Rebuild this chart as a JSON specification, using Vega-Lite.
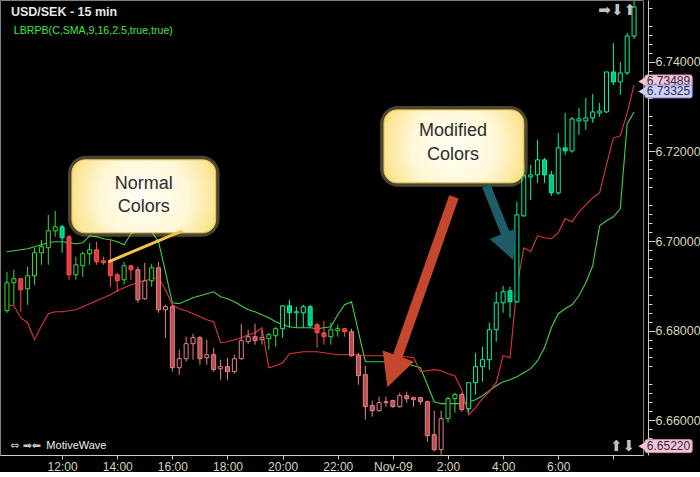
{
"$schema":"https://vega.github.io/schema/vega-lite/v6.json",
"width":643,"height":455,
"padding":{"left":0,"top":0,"right":0,"bottom":0},
"autosize":{"type":"pad"},
"background":"#000000",
"config":{"view":{"stroke":"#808080","strokeWidth":1},"font":"Liberation Sans"},
"resolve":{"axis":{"y":"independent"}},
"datasets":{"c":[
{"t":"2010-11-08T10:00","o":6.68442,"h":6.69313,"l":6.68398,"c":6.69067,"s":"un","u":6.69759,"d":6.68576},
{"t":"2010-11-08T10:15","o":6.69067,"h":6.69358,"l":6.68576,"c":6.69157,"s":"un","u":6.69782,"d":6.68554},
{"t":"2010-11-08T10:30","o":6.69157,"h":6.69179,"l":6.68420,"c":6.68911,"s":"dn","u":6.69804,"d":6.68286},
{"t":"2010-11-08T10:45","o":6.68934,"h":6.69425,"l":6.68576,"c":6.69224,"s":"un","u":6.69826,"d":6.68175},
{"t":"2010-11-08T11:00","o":6.69224,"h":6.69849,"l":6.69023,"c":6.69737,"s":"un","u":6.69871,"d":6.67795},
{"t":"2010-11-08T11:15","o":6.69737,"h":6.70027,"l":6.69469,"c":6.69871,"s":"un","u":6.69916,"d":6.68108},
{"t":"2010-11-08T11:30","o":6.69849,"h":6.70585,"l":6.69469,"c":6.70228,"s":"un","u":6.69960,"d":6.68376},
{"t":"2010-11-08T11:45","o":6.70228,"h":6.70674,"l":6.70094,"c":6.70317,"s":"un","u":6.69983,"d":6.68420},
{"t":"2010-11-08T12:00","o":6.70317,"h":6.70362,"l":6.69737,"c":6.70072,"s":"dh","u":6.69983,"d":6.68420},
{"t":"2010-11-08T12:15","o":6.70094,"h":6.70139,"l":6.69134,"c":6.69246,"s":"dn","u":6.69960,"d":6.68442},
{"t":"2010-11-08T12:30","o":6.69246,"h":6.69648,"l":6.69134,"c":6.69469,"s":"un","u":6.69938,"d":6.68465},
{"t":"2010-11-08T12:45","o":6.69447,"h":6.69759,"l":6.69201,"c":6.69715,"s":"un","u":6.69960,"d":6.68532},
{"t":"2010-11-08T13:00","o":6.69715,"h":6.69960,"l":6.69469,"c":6.69804,"s":"un","u":6.70116,"d":6.68599},
{"t":"2010-11-08T13:15","o":6.69804,"h":6.69983,"l":6.69469,"c":6.69536,"s":"dn","u":6.70094,"d":6.68666},
{"t":"2010-11-08T13:30","o":6.69558,"h":6.69648,"l":6.69469,"c":6.69514,"s":"dn","u":6.70050,"d":6.68733},
{"t":"2010-11-08T13:45","o":6.69536,"h":6.70027,"l":6.68978,"c":6.69224,"s":"dn","u":6.70027,"d":6.68800},
{"t":"2010-11-08T14:00","o":6.69246,"h":6.69291,"l":6.68867,"c":6.69112,"s":"dn","u":6.69983,"d":6.68889},
{"t":"2010-11-08T14:15","o":6.69134,"h":6.69536,"l":6.69023,"c":6.69447,"s":"un","u":6.69916,"d":6.68956},
{"t":"2010-11-08T14:30","o":6.69447,"h":6.69469,"l":6.69134,"c":6.69358,"s":"dn","u":6.70161,"d":6.69023},
{"t":"2010-11-08T14:45","o":6.69358,"h":6.69425,"l":6.68621,"c":6.68688,"s":"dl","u":6.70228,"d":6.69067},
{"t":"2010-11-08T15:00","o":6.68710,"h":6.69514,"l":6.68688,"c":6.69112,"s":"ul","u":6.70250,"d":6.69112},
{"t":"2010-11-08T15:15","o":6.69112,"h":6.69492,"l":6.68978,"c":6.69402,"s":"un","u":6.70206,"d":6.69157},
{"t":"2010-11-08T15:30","o":6.69402,"h":6.69536,"l":6.68398,"c":6.68465,"s":"dl","u":6.69983,"d":6.69179},
{"t":"2010-11-08T15:45","o":6.68465,"h":6.68576,"l":6.67840,"c":6.68532,"s":"ul","u":6.69313,"d":6.68911},
{"t":"2010-11-08T16:00","o":6.68532,"h":6.68576,"l":6.67081,"c":6.67170,"s":"dl","u":6.68621,"d":6.68576},
{"t":"2010-11-08T16:15","o":6.67170,"h":6.67572,"l":6.67014,"c":6.67371,"s":"ul","u":6.68599,"d":6.68487},
{"t":"2010-11-08T16:30","o":6.67371,"h":6.67862,"l":6.67304,"c":6.67706,"s":"ul","u":6.68666,"d":6.68442},
{"t":"2010-11-08T16:45","o":6.67706,"h":6.67929,"l":6.67349,"c":6.67840,"s":"ul","u":6.68733,"d":6.68376},
{"t":"2010-11-08T17:00","o":6.67840,"h":6.67884,"l":6.67237,"c":6.67371,"s":"dl","u":6.68777,"d":6.68309},
{"t":"2010-11-08T17:15","o":6.67393,"h":6.67795,"l":6.67237,"c":6.67460,"s":"ul","u":6.68822,"d":6.68242},
{"t":"2010-11-08T17:30","o":6.67460,"h":6.67617,"l":6.67081,"c":6.67126,"s":"dl","u":6.68867,"d":6.68197},
{"t":"2010-11-08T17:45","o":6.67148,"h":6.67349,"l":6.66902,"c":6.67193,"s":"ul","u":6.68755,"d":6.67728},
{"t":"2010-11-08T18:00","o":6.67193,"h":6.67393,"l":6.66902,"c":6.67081,"s":"dl","u":6.68710,"d":6.67751},
{"t":"2010-11-08T18:15","o":6.67081,"h":6.67460,"l":6.67036,"c":6.67371,"s":"ul","u":6.68643,"d":6.67795},
{"t":"2010-11-08T18:30","o":6.67371,"h":6.68152,"l":6.67349,"c":6.67773,"s":"ul","u":6.68554,"d":6.67840},
{"t":"2010-11-08T18:45","o":6.67751,"h":6.68018,"l":6.67706,"c":6.67862,"s":"ul","u":6.68465,"d":6.67907},
{"t":"2010-11-08T19:00","o":6.67862,"h":6.68152,"l":6.67684,"c":6.67773,"s":"dl","u":6.68420,"d":6.67951},
{"t":"2010-11-08T19:15","o":6.67795,"h":6.68018,"l":6.67684,"c":6.67840,"s":"ul","u":6.68353,"d":6.68063},
{"t":"2010-11-08T19:30","o":6.67818,"h":6.67951,"l":6.67572,"c":6.67907,"s":"un","u":6.68286,"d":6.67170},
{"t":"2010-11-08T19:45","o":6.67884,"h":6.68085,"l":6.67639,"c":6.68041,"s":"un","u":6.68197,"d":6.67215},
{"t":"2010-11-08T20:00","o":6.68041,"h":6.68554,"l":6.67840,"c":6.68554,"s":"uh","u":6.68130,"d":6.67282},
{"t":"2010-11-08T20:15","o":6.68554,"h":6.68688,"l":6.68063,"c":6.68398,"s":"dh","u":6.68085,"d":6.67483},
{"t":"2010-11-08T20:30","o":6.68398,"h":6.68532,"l":6.68063,"c":6.68420,"s":"uh","u":6.68063,"d":6.67505},
{"t":"2010-11-08T20:45","o":6.68398,"h":6.68576,"l":6.68063,"c":6.68532,"s":"uh","u":6.68063,"d":6.67527},
{"t":"2010-11-08T21:00","o":6.68532,"h":6.68576,"l":6.68063,"c":6.68108,"s":"dh","u":6.68063,"d":6.67527},
{"t":"2010-11-08T21:15","o":6.68130,"h":6.68175,"l":6.67617,"c":6.67951,"s":"dn","u":6.68041,"d":6.67527},
{"t":"2010-11-08T21:30","o":6.67951,"h":6.68219,"l":6.67684,"c":6.67862,"s":"dn","u":6.68063,"d":6.67505},
{"t":"2010-11-08T21:45","o":6.67862,"h":6.68175,"l":6.67684,"c":6.68018,"s":"un","u":6.68085,"d":6.67483},
{"t":"2010-11-08T22:00","o":6.67996,"h":6.68130,"l":6.67862,"c":6.68041,"s":"un","u":6.68353,"d":6.67460},
{"t":"2010-11-08T22:15","o":6.68041,"h":6.68063,"l":6.67862,"c":6.67974,"s":"dn","u":6.68576,"d":6.67460},
{"t":"2010-11-08T22:30","o":6.67974,"h":6.68041,"l":6.67416,"c":6.67438,"s":"dl","u":6.68643,"d":6.67460},
{"t":"2010-11-08T22:45","o":6.67438,"h":6.67505,"l":6.66791,"c":6.66992,"s":"dl","u":6.67974,"d":6.67460},
{"t":"2010-11-08T23:00","o":6.67014,"h":6.67215,"l":6.66010,"c":6.66300,"s":"dl","u":6.67304,"d":6.67438},
{"t":"2010-11-08T23:15","o":6.66322,"h":6.66434,"l":6.66077,"c":6.66210,"s":"dl","u":6.67304,"d":6.67438},
{"t":"2010-11-08T23:30","o":6.66210,"h":6.66523,"l":6.66188,"c":6.66389,"s":"ul","u":6.67304,"d":6.67438},
{"t":"2010-11-08T23:45","o":6.66389,"h":6.66523,"l":6.66300,"c":6.66411,"s":"ul","u":6.67304,"d":6.67438},
{"t":"2010-11-09T00:00","o":6.66434,"h":6.66456,"l":6.66277,"c":6.66300,"s":"dl","u":6.67304,"d":6.67438},
{"t":"2010-11-09T00:15","o":6.66300,"h":6.66612,"l":6.66277,"c":6.66545,"s":"ul","u":6.67282,"d":6.67416},
{"t":"2010-11-09T00:30","o":6.66545,"h":6.66635,"l":6.66389,"c":6.66478,"s":"dl","u":6.67260,"d":6.67416},
{"t":"2010-11-09T00:45","o":6.66501,"h":6.66523,"l":6.66300,"c":6.66456,"s":"dl","u":6.67215,"d":6.67393},
{"t":"2010-11-09T01:00","o":6.66501,"h":6.66523,"l":6.66344,"c":6.66411,"s":"dl","u":6.67170,"d":6.67081},
{"t":"2010-11-09T01:15","o":6.66411,"h":6.66434,"l":6.65519,"c":6.65652,"s":"dl","u":6.66791,"d":6.67103},
{"t":"2010-11-09T01:30","o":6.65675,"h":6.66210,"l":6.65295,"c":6.65340,"s":"dl","u":6.66411,"d":6.67126},
{"t":"2010-11-09T01:45","o":6.65340,"h":6.66210,"l":6.65228,"c":6.66032,"s":"ul","u":6.66367,"d":6.67103},
{"t":"2010-11-09T02:00","o":6.66032,"h":6.66523,"l":6.65943,"c":6.66478,"s":"un","u":6.66367,"d":6.67036},
{"t":"2010-11-09T02:15","o":6.66478,"h":6.66612,"l":6.66166,"c":6.66568,"s":"un","u":6.66367,"d":6.66992},
{"t":"2010-11-09T02:30","o":6.66568,"h":6.66612,"l":6.66188,"c":6.66233,"s":"dl","u":6.66367,"d":6.66679},
{"t":"2010-11-09T02:45","o":6.66255,"h":6.66835,"l":6.66166,"c":6.66835,"s":"uh","u":6.66411,"d":6.66121},
{"t":"2010-11-09T03:00","o":6.66835,"h":6.67505,"l":6.66568,"c":6.67193,"s":"uh","u":6.66456,"d":6.66277},
{"t":"2010-11-09T03:15","o":6.67193,"h":6.67639,"l":6.66858,"c":6.67349,"s":"uh","u":6.66545,"d":6.66478},
{"t":"2010-11-09T03:30","o":6.67349,"h":6.68175,"l":6.67126,"c":6.68018,"s":"uh","u":6.66657,"d":6.66635},
{"t":"2010-11-09T03:45","o":6.68018,"h":6.68867,"l":6.67751,"c":6.68621,"s":"uh","u":6.66768,"d":6.66835},
{"t":"2010-11-09T04:00","o":6.68621,"h":6.69000,"l":6.68398,"c":6.68867,"s":"uh","u":6.66858,"d":6.67438},
{"t":"2010-11-09T04:15","o":6.68889,"h":6.68978,"l":6.68286,"c":6.68643,"s":"dh","u":6.66902,"d":6.67393},
{"t":"2010-11-09T04:30","o":6.68643,"h":6.70875,"l":6.68621,"c":6.70585,"s":"uh","u":6.66969,"d":6.68978},
{"t":"2010-11-09T04:45","o":6.70563,"h":6.71701,"l":6.70541,"c":6.71456,"s":"uh","u":6.67059,"d":6.69849},
{"t":"2010-11-09T05:00","o":6.71433,"h":6.71701,"l":6.70920,"c":6.71478,"s":"uh","u":6.67148,"d":6.69759},
{"t":"2010-11-09T05:15","o":6.71478,"h":6.72259,"l":6.71299,"c":6.71813,"s":"uh","u":6.67326,"d":6.70116},
{"t":"2010-11-09T05:30","o":6.71813,"h":6.71857,"l":6.71299,"c":6.71478,"s":"dh","u":6.67617,"d":6.70072},
{"t":"2010-11-09T05:45","o":6.71478,"h":6.71567,"l":6.71009,"c":6.71076,"s":"dh","u":6.68063,"d":6.70050},
{"t":"2010-11-09T06:00","o":6.71076,"h":6.72415,"l":6.71032,"c":6.72081,"s":"uh","u":6.68376,"d":6.70183},
{"t":"2010-11-09T06:15","o":6.72081,"h":6.72862,"l":6.71924,"c":6.72014,"s":"dh","u":6.68487,"d":6.70496},
{"t":"2010-11-09T06:30","o":6.72014,"h":6.72773,"l":6.71969,"c":6.72728,"s":"uh","u":6.68576,"d":6.70429},
{"t":"2010-11-09T06:45","o":6.72683,"h":6.72973,"l":6.72371,"c":6.72728,"s":"uh","u":6.68777,"d":6.70652},
{"t":"2010-11-09T07:00","o":6.72683,"h":6.73197,"l":6.72482,"c":6.72750,"s":"uh","u":6.69067,"d":6.70808},
{"t":"2010-11-09T07:15","o":6.72750,"h":6.73286,"l":6.72639,"c":6.72884,"s":"uh","u":6.69447,"d":6.70965},
{"t":"2010-11-09T07:30","o":6.72862,"h":6.73085,"l":6.72773,"c":6.72906,"s":"uh","u":6.70340,"d":6.71076},
{"t":"2010-11-09T07:45","o":6.72884,"h":6.73777,"l":6.72862,"c":6.73777,"s":"uh","u":6.70451,"d":6.71701},
{"t":"2010-11-09T08:00","o":6.73777,"h":6.74424,"l":6.73487,"c":6.73554,"s":"dh","u":6.70541,"d":6.72304},
{"t":"2010-11-09T08:15","o":6.73554,"h":6.74000,"l":6.73264,"c":6.73755,"s":"uh","u":6.70719,"d":6.72348},
{"t":"2010-11-09T08:30","o":6.73755,"h":6.74647,"l":6.73710,"c":6.74580,"s":"uh","u":6.72616,"d":6.72862},
{"t":"2010-11-09T08:45","o":6.74580,"h":6.75362,"l":6.74514,"c":6.75228,"s":"uh","u":6.72884,"d":6.73489}
]},
"data":{"name":"c"},
"layer":[
{"mark":{"type":"line","color":"#3fd23f","strokeWidth":1.1},
 "encoding":{
  "x":{"field":"t","type":"temporal",
   "scale":{"domain":[{"year":2010,"month":11,"date":8,"hours":9,"minutes":55,"seconds":43},{"year":2010,"month":11,"date":9,"hours":8,"minutes":53,"seconds":34}]},
   "axis":{"title":null,"orient":"bottom","grid":false,
    "values":[{"year":2010,"month":11,"date":8,"hours":12},{"year":2010,"month":11,"date":8,"hours":14},{"year":2010,"month":11,"date":8,"hours":16},{"year":2010,"month":11,"date":8,"hours":18},{"year":2010,"month":11,"date":8,"hours":20},{"year":2010,"month":11,"date":8,"hours":22},{"year":2010,"month":11,"date":9,"hours":0},{"year":2010,"month":11,"date":9,"hours":2},{"year":2010,"month":11,"date":9,"hours":4},{"year":2010,"month":11,"date":9,"hours":6},{"year":2010,"month":11,"date":9,"hours":8}],
    "labelExpr":"hours(datum.value) == 0 ? 'Nov-09' : (hours(datum.value) == 8 ? '' : timeFormat(datum.value, '%-H:%M'))",
    "domainColor":"#d0d0b8","tickColor":"#d0d0b8","tickSize":4,"labelColor":"#d6d6ba","labelFont":"Liberation Sans","labelFontSize":12,"labelPadding":2,"labelFlush":false,"labelOverlap":false}},
  "y":{"field":"u","type":"quantitative",
   "scale":{"domain":[6.6522,6.75384],"nice":false,"zero":false},
   "axis":{"title":null,"orient":"right","offset":5,"grid":false,
    "values":[6.66,6.68,6.7,6.72,6.74],"format":".5f",
    "domainColor":"#d0d0b8","tickColor":"#d0d0b8","tickSize":7,"labelColor":"#d6d6ba","labelFont":"Liberation Sans","labelFontSize":12.5,"labelPadding":0,"labelOverlap":false,"labelFlush":false}}
 }},
{"mark":{"type":"line","color":"#e03434","strokeWidth":1.1},
 "encoding":{"x":{"field":"t","type":"temporal"},"y":{"field":"d","type":"quantitative",
   "axis":{"title":null,"orient":"right","offset":5,"grid":false,"labels":false,"domain":false,
    "values":[6.654,6.656,6.658,6.662,6.664,6.666,6.668,6.672,6.674,6.676,6.678,6.682,6.684,6.686,6.688,6.692,6.694,6.696,6.698,6.702,6.704,6.706,6.708,6.712,6.714,6.716,6.718,6.722,6.724,6.726,6.728,6.732,6.734,6.736,6.738,6.742,6.744,6.746,6.748,6.752],
    "tickColor":"#d0d0b8","tickSize":4}}}},
{"mark":{"type":"rule","strokeWidth":1},
 "encoding":{"x":{"field":"t","type":"temporal"},"y":{"field":"l","type":"quantitative","axis":null},"y2":{"field":"h"},
  "stroke":{"field":"s","type":"nominal","legend":null,"scale":{"domain":["un","dn","uh","dh","ul","dl"],"range":["#34de34","#ff4c4c","#00f59c","#00f59c","#e8828a","#e8828a"]}}}},
{"mark":{"type":"bar","width":4,"strokeWidth":1},
 "encoding":{"x":{"field":"t","type":"temporal"},"y":{"field":"o","type":"quantitative","axis":null},"y2":{"field":"c"},
  "fill":{"field":"s","type":"nominal","legend":null,"scale":{"domain":["un","dn","uh","dh","ul","dl"],"range":["#000000","#e33b3b","#000000","#00c884","#000000","#b84e50"]}},
  "stroke":{"field":"s","type":"nominal","legend":null,"scale":{"domain":["un","dn","uh","dh","ul","dl"],"range":["#34de34","#ff4c4c","#00f59c","#00f59c","#e8828a","#e8828a"]}}}},
{"data":{"values":[{"x":"2010-11-08T12:12:51","x2":"2010-11-08T17:42:51","y":6.71902,"y2":6.70094},{"x":"2010-11-08T23:32:09","x2":"2010-11-09T04:53:34","y":6.73018,"y2":6.71210}]},
 "mark":{"type":"rect","cornerRadius":18,"fill":"#f3e6a8","opacity":0.3},
 "encoding":{"x":{"field":"x","type":"temporal"},"x2":{"field":"x2"},"y":{"field":"y","type":"quantitative","axis":null},"y2":{"field":"y2"}}},
{"data":{"values":[{"x":"2010-11-08T12:21:26","x2":"2010-11-08T17:34:17","y":6.71813,"y2":6.70183},{"x":"2010-11-08T23:40:43","x2":"2010-11-09T04:45:00","y":6.72929,"y2":6.71299}]},
 "mark":{"type":"rect","cornerRadius":13,"stroke":"#f0c850","strokeWidth":1,
  "fill":{"gradient":"radial","x1":0.5,"y1":0.5,"r1":0,"x2":0.5,"y2":0.5,"r2":0.62,"stops":[{"offset":0,"color":"#fffef6"},{"offset":0.5,"color":"#fff7d6"},{"offset":0.8,"color":"#fbe594"},{"offset":1,"color":"#f2c448"}]}},
 "encoding":{"x":{"field":"x","type":"temporal"},"x2":{"field":"x2"},"y":{"field":"y","type":"quantitative","axis":null},"y2":{"field":"y2"}}},
{"data":{"values":[{"x":"2010-11-08T16:21:26","y":6.70228,"x2":"2010-11-08T13:40:43","y2":6.69536}]},
 "mark":{"type":"rule","color":"#f2c445","strokeWidth":3},
 "encoding":{"x":{"field":"x","type":"temporal"},"x2":{"field":"x2"},"y":{"field":"y","type":"quantitative","axis":null},"y2":{"field":"y2"}}},
{"data":{"values":[{"x":"2010-11-08T14:57:51","y":6.71277,"txt":"Normal"},{"x":"2010-11-08T14:57:51","y":6.70764,"txt":"Colors"},{"x":"2010-11-09T02:10:43","y":6.72460,"txt":"Modified"},{"x":"2010-11-09T02:10:43","y":6.71924,"txt":"Colors"}]},
 "mark":{"type":"text","fontSize":18,"color":"#2d2d2d","align":"center","baseline":"middle","font":"Liberation Sans"},
 "encoding":{"x":{"field":"x","type":"temporal"},"y":{"field":"y","type":"quantitative","axis":null},"text":{"field":"txt"}}},
{"data":{"values":[{"x":"2010-11-09T02:12:51","y":6.70987,"x2":"2010-11-09T00:06:26","y2":6.67304}]},
 "mark":{"type":"rule","color":"#c4472e","strokeWidth":10,"strokeCap":"butt"},
 "encoding":{"x":{"field":"x","type":"temporal"},"x2":{"field":"x2"},"y":{"field":"y","type":"quantitative","axis":null},"y2":{"field":"y2"}}},
{"data":{"values":[{"x":"2010-11-09T00:00:00","y":6.67081}]},
 "mark":{"type":"point","shape":"M-1,-1L1,-1L0,1Z","filled":true,"size":1100,"angle":19.3,"color":"#c4472e","opacity":1},
 "encoding":{"x":{"field":"x","type":"temporal"},"y":{"field":"y","type":"quantitative","axis":null}}},
{"data":{"values":[{"x":"2010-11-09T03:23:34","y":6.71232,"x2":"2010-11-09T04:08:34","y2":6.70072}]},
 "mark":{"type":"rule","color":"#1e5c68","strokeWidth":9,"strokeCap":"butt"},
 "encoding":{"x":{"field":"x","type":"temporal"},"x2":{"field":"x2"},"y":{"field":"y","type":"quantitative","axis":null},"y2":{"field":"y2"}}},
{"data":{"values":[{"x":"2010-11-09T04:10:43","y":6.69871}]},
 "mark":{"type":"point","shape":"M-1,-1L1,-1L0,1Z","filled":true,"size":800,"angle":-22,"color":"#1e5c68","opacity":1},
 "encoding":{"x":{"field":"x","type":"temporal"},"y":{"field":"y","type":"quantitative","axis":null}}},
{"data":{"values":[{"x":"2010-11-09T09:08:34","x2":"2010-11-09T10:51:26","y":6.73710,"y2":6.73420}]},
 "mark":{"type":"rect","strokeWidth":1,"cornerRadius":2,"fill":"#f7c6d6","stroke":"#d88ca6"},
 "encoding":{"x":{"field":"x","type":"temporal"},"x2":{"field":"x2"},"y":{"field":"y","type":"quantitative","axis":null},"y2":{"field":"y2"}}},
{"data":{"values":[{"x":"2010-11-09T09:02:09","y":6.73565}]},
 "mark":{"type":"point","shape":"triangle-left","filled":true,"size":70,"opacity":1,"color":"#f7c6d6"},
 "encoding":{"x":{"field":"x","type":"temporal"},"y":{"field":"y","type":"quantitative","axis":null}}},
{"data":{"values":[{"x":"2010-11-09T10:00:00","y":6.73565,"txt":"6.73489"}]},
 "mark":{"type":"text","fontSize":12,"color":"#26264a","align":"center","baseline":"middle","font":"Liberation Sans"},
 "encoding":{"x":{"field":"x","type":"temporal"},"y":{"field":"y","type":"quantitative","axis":null},"text":{"field":"txt"}}},
{"data":{"values":[{"x":"2010-11-09T09:08:34","x2":"2010-11-09T10:51:26","y":6.73487,"y2":6.73197,"f":"v"},{"x":"2010-11-09T09:08:34","x2":"2010-11-09T10:51:26","y":6.65563,"y2":6.65273,"f":"p"}]},
 "mark":{"type":"rect","strokeWidth":1,"cornerRadius":2},
 "encoding":{"x":{"field":"x","type":"temporal"},"x2":{"field":"x2"},"y":{"field":"y","type":"quantitative","axis":null},"y2":{"field":"y2"},
  "fill":{"condition":{"test":"datum.f == 'v'","value":"#cfd0fa"},"value":"#f7c6d6"},
  "stroke":{"condition":{"test":"datum.f == 'v'","value":"#8c8cd0"},"value":"#d88ca6"}}},
{"data":{"values":[{"x":"2010-11-09T09:02:09","y":6.73342,"f":"v"},{"x":"2010-11-09T09:02:09","y":6.65418,"f":"p"}]},
 "mark":{"type":"point","shape":"triangle-left","filled":true,"size":70,"opacity":1},
 "encoding":{"x":{"field":"x","type":"temporal"},"y":{"field":"y","type":"quantitative","axis":null},
  "fill":{"condition":{"test":"datum.f == 'v'","value":"#cfd0fa"},"value":"#f7c6d6"}}},
{"data":{"values":[{"x":"2010-11-09T10:00:00","y":6.73342,"txt":"6.73325"},{"x":"2010-11-09T10:00:00","y":6.65418,"txt":"6.65220"}]},
 "mark":{"type":"text","fontSize":12,"color":"#26264a","align":"center","baseline":"middle","font":"Liberation Sans"},
 "encoding":{"x":{"field":"x","type":"temporal"},"y":{"field":"y","type":"quantitative","axis":null},"text":{"field":"txt"}}},
{"data":{"values":[{"x":"2010-11-08T10:08:34","y":6.75116,"txt":"USD/SEK - 15 min"}]},
 "mark":{"type":"text","fontSize":12.5,"fontWeight":"bold","color":"#e6e6e6","align":"left","baseline":"middle","font":"Liberation Sans"},
 "encoding":{"x":{"field":"x","type":"temporal"},"y":{"field":"y","type":"quantitative","axis":null},"text":{"field":"txt"}}},
{"data":{"values":[{"x":"2010-11-08T10:15:00","y":6.74692,"txt":"LBRPB(C,SMA,9,16,2.5,true,true)"}]},
 "mark":{"type":"text","fontSize":10.6,"color":"#3ee63e","align":"left","baseline":"middle","font":"Liberation Sans"},
 "encoding":{"x":{"field":"x","type":"temporal"},"y":{"field":"y","type":"quantitative","axis":null},"text":{"field":"txt"}}},
{"data":{"values":[{"x":"2010-11-08T11:25:43","y":6.65429,"txt":"MotiveWave"}]},
 "mark":{"type":"text","fontSize":11,"color":"#f0f0f0","align":"left","baseline":"middle","font":"Liberation Sans"},
 "encoding":{"x":{"field":"x","type":"temporal"},"y":{"field":"y","type":"quantitative","axis":null},"text":{"field":"txt"}}},
{"data":{"values":[{"x":"2010-11-08T10:06:26","y":6.65429,"txt":"⇔ ➡⬅"}]},
 "mark":{"type":"text","fontSize":11,"color":"#c4c4c4","baseline":"middle","font":"DejaVu Sans","align":"left"},
 "encoding":{"x":{"field":"x","type":"temporal"},"y":{"field":"y","type":"quantitative","axis":null},"text":{"field":"txt"}}},
{"data":{"values":[{"x":"2010-11-09T08:47:09","y":6.65429,"txt":"⬆⬇"},{"x":"2010-11-09T08:49:17","y":6.75161,"txt":"➡⬇⬆"}]},
 "mark":{"type":"text","fontSize":15,"color":"#c4c4c4","baseline":"middle","font":"DejaVu Sans","align":"right"},
 "encoding":{"x":{"field":"x","type":"temporal"},"y":{"field":"y","type":"quantitative","axis":null},"text":{"field":"txt"}}}
]
}
